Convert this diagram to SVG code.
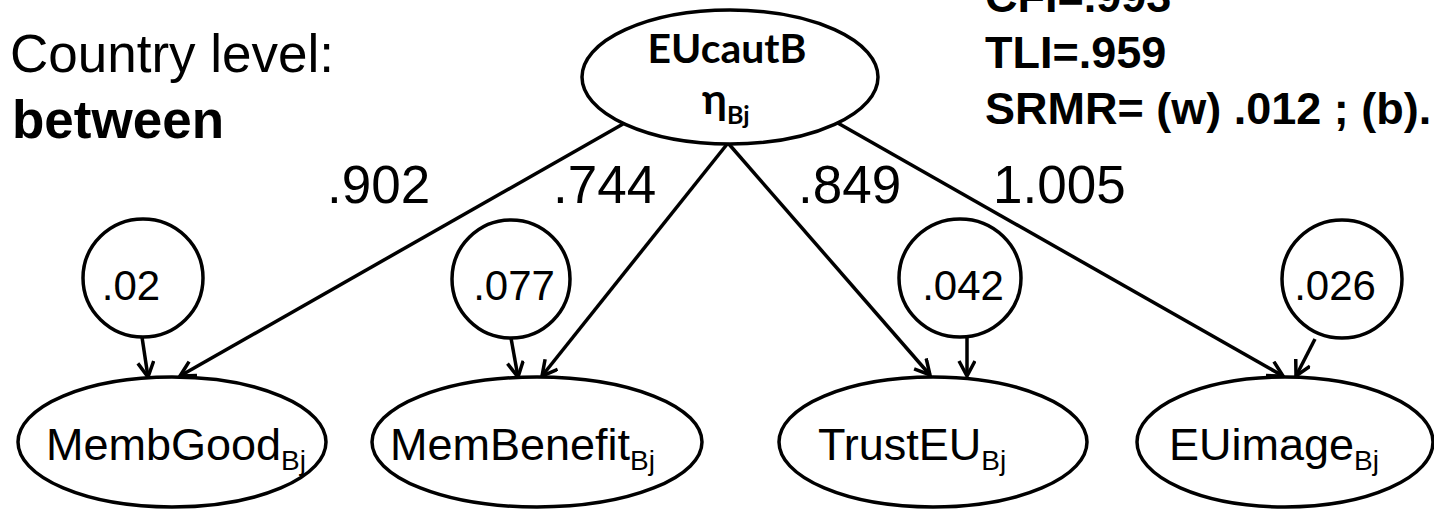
<svg xmlns="http://www.w3.org/2000/svg" width="1434" height="511" viewBox="0 0 1434 511">
  <style>
    .shape { fill: #ffffff; stroke: #000000; stroke-width: 3.5; }
    .edge { fill: none; stroke: #000000; stroke-width: 3.5; marker-end: url(#vhead); }
    .sans { font-family: "Liberation Sans", Arial, sans-serif; fill: #000000; }
    .big { font-size: 53px; }
    .fit { font-size: 45px; font-weight: bold; }
    .lbl { font-size: 45px; }
    .sub { font-size: 28px; }
    .res { font-size: 42px; text-anchor: middle; }
    .latent { font-family: Lato, "Open Sans", sans-serif; fill: #000000; font-weight: bold; }
  </style>
  <defs>
    <!-- open V arrowhead, drawn in user units so every connector gets the same size -->
    <marker id="vhead" markerUnits="userSpaceOnUse" markerWidth="24" markerHeight="24" refX="16" refY="9" orient="auto">
      <path d="M1,1 L16,9 L1,17" fill="none" stroke="#000000" stroke-width="3.5" stroke-linejoin="miter"/>
    </marker>
  </defs>
  <rect width="1434" height="511" fill="#ffffff"/>

  <!-- level heading -->
  <g id="heading">
    <text class="sans big" x="10" y="72">Country level:</text>
    <text class="sans big" x="12" y="138" font-weight="bold">between</text>
  </g>

  <!-- fit indices -->
  <g id="fit-indices">
    <text class="sans fit" x="985" y="12">CFI=.993</text>
    <text class="sans fit" x="985" y="68">TLI=.959</text>
    <text class="sans fit" x="985" y="124">SRMR= (w) .012 ; (b).</text>
  </g>

  <!-- connectors -->
  <g id="connectors">
    <line class="edge" x1="623" y1="124" x2="180" y2="376"/>
    <line class="edge" x1="728" y1="143" x2="542" y2="376"/>
    <line class="edge" x1="728" y1="143" x2="930" y2="375"/>
    <line class="edge" x1="836" y1="122" x2="1283" y2="376"/>
    <line class="edge" x1="142" y1="337" x2="148" y2="377"/>
    <line class="edge" x1="511" y1="338" x2="518" y2="377"/>
    <line class="edge" x1="967" y1="337" x2="967" y2="376"/>
    <line class="edge" x1="1315" y1="339" x2="1296" y2="376"/>
  </g>

  <!-- loadings -->
  <g id="loadings">
    <text class="sans big" x="327" y="203">.902</text>
    <text class="sans big" x="553" y="203">.744</text>
    <text class="sans big" x="798" y="203">.849</text>
    <text class="sans big" x="993" y="203">1.005</text>
  </g>

  <!-- latent factor -->
  <g id="EUcautB">
    <ellipse class="shape" cx="730" cy="77" rx="148" ry="67"/>
    <text class="latent" x="727" y="63" font-size="41" text-anchor="middle" textLength="159" lengthAdjust="spacingAndGlyphs">EUcautB</text>
    <text class="latent" x="702" y="114" font-size="42">η<tspan font-size="25" dy="10">Bj</tspan></text>
  </g>

  <!-- residual variances -->
  <g id="res-MembGood">
    <ellipse class="shape" cx="143" cy="278" rx="60" ry="59"/>
    <text class="sans res" x="131" y="300">.02</text>
  </g>
  <g id="res-MemBenefit">
    <ellipse class="shape" cx="511" cy="279" rx="59" ry="59"/>
    <text class="sans res" x="514" y="300">.077</text>
  </g>
  <g id="res-TrustEU">
    <ellipse class="shape" cx="960" cy="278" rx="61" ry="59"/>
    <text class="sans res" x="963" y="300">.042</text>
  </g>
  <g id="res-EUimage">
    <ellipse class="shape" cx="1342" cy="279" rx="60" ry="59"/>
    <text class="sans res" x="1335" y="300">.026</text>
  </g>

  <!-- indicators -->
  <g id="MembGood">
    <ellipse class="shape" cx="172" cy="442" rx="154" ry="65"/>
    <text class="sans lbl" x="46" y="460">MembGood<tspan class="sub" dy="10">Bj</tspan></text>
  </g>
  <g id="MemBenefit">
    <ellipse class="shape" cx="537" cy="442" rx="165" ry="65"/>
    <text class="sans lbl" x="390" y="460">MemBenefit<tspan class="sub" dy="10">Bj</tspan></text>
  </g>
  <g id="TrustEU">
    <ellipse class="shape" cx="933" cy="442" rx="154" ry="65"/>
    <text class="sans lbl" x="818" y="460">TrustEU<tspan class="sub" dy="10">Bj</tspan></text>
  </g>
  <g id="EUimage">
    <ellipse class="shape" cx="1285" cy="442" rx="148" ry="65"/>
    <text class="sans lbl" x="1169" y="460">EUimage<tspan class="sub" dy="10">Bj</tspan></text>
  </g>
</svg>
